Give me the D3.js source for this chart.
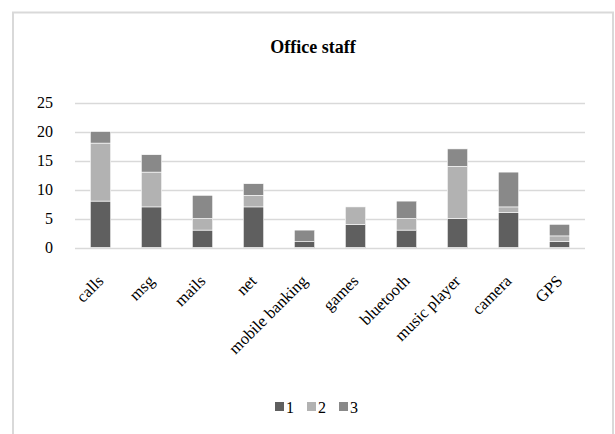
<!DOCTYPE html>
<html>
<head>
<meta charset="utf-8">
<script src="https://cdn.jsdelivr.net/npm/d3@7"></script>
<style>
  body { margin: 0; background: #fff; }
  text { font-family: "Liberation Serif", "Times New Roman", serif; }
</style>
</head>
<body>
<div id="chart"></div>
<script>
var categories = ["calls", "msg", "mails", "net", "mobile banking", "games", "bluetooth", "music player", "camera", "GPS"];
var series1 = [8, 7, 3, 7, 1, 4, 3, 5, 6, 1];
var series2 = [10, 6, 2, 2, 0, 3, 2, 9, 1, 1];
var series3 = [2, 3, 4, 2, 2, 0, 3, 3, 6, 2];
var seriesNames = ["1", "2", "3"];
var yTicks = [0, 5, 10, 15, 20, 25];
var colors = ["#5f5f5f", "#b2b2b2", "#898989"];

var W = 615, H = 434;

var svg = d3.select("#chart").append("svg")
  .attr("width", W)
  .attr("height", H);

// outer chart frame
svg.append("rect")
  .attr("x", 13).attr("y", 12.5)
  .attr("width", 600).attr("height", 440)
  .attr("fill", "#fff")
  .attr("stroke", "#d9d9d9")
  .attr("stroke-width", 2);

svg.append("text")
  .attr("x", 313).attr("y", 53)
  .attr("text-anchor", "middle")
  .style("font-size", "18px")
  .style("font-weight", "bold")
  .text("Office staff");

var x = d3.scaleBand()
  .domain(categories)
  .range([75, 585])
  .paddingInner(0.6)
  .paddingOuter(0.3);

var y = d3.scaleLinear()
  .domain([0, 25])
  .range([247.5, 102.5]);

// gridlines
svg.append("g")
  .selectAll("line")
  .data(yTicks)
  .enter().append("line")
  .attr("x1", 75).attr("x2", 585)
  .attr("y1", d => Math.round(y(d)) + 0.5)
  .attr("y2", d => Math.round(y(d)) + 0.5)
  .attr("stroke", "#d9d9d9")
  .attr("stroke-width", 1.3);

// y labels
svg.append("g")
  .selectAll("text")
  .data(yTicks)
  .enter().append("text")
  .attr("x", 53)
  .attr("y", d => y(d) + 5.5)
  .attr("text-anchor", "end")
  .style("font-size", "16px")
  .text(d => d);

var rows = categories.map((c, i) => ({ cat: c, s0: series1[i], s1: series2[i], s2: series3[i] }));
var stack = d3.stack().keys(["s0", "s1", "s2"]);
var layers = stack(rows);

svg.append("g")
  .selectAll("g")
  .data(layers)
  .enter().append("g")
  .attr("fill", (d, i) => colors[i])
  .selectAll("rect")
  .data(d => d.filter(p => p[1] > p[0]))
  .enter().append("rect")
  .attr("x", d => x(d.data.cat))
  .attr("y", d => y(d[1]))
  .attr("width", x.bandwidth())
  .attr("height", d => y(d[0]) - y(d[1]))
  .attr("stroke", "#fff")
  .attr("stroke-width", 0.6);

// category labels, rotated
svg.append("g")
  .selectAll("text")
  .data(categories)
  .enter().append("text")
  .attr("text-anchor", "end")
  .attr("transform", d => "translate(" + (x(d) + x.bandwidth() / 2 + 4) + ",282) rotate(-45)")
  .style("font-size", "16.5px")
  .text(d => d);

// legend
var legend = svg.append("g")
  .selectAll("g")
  .data(seriesNames)
  .enter().append("g")
  .attr("transform", (d, i) => "translate(" + (275 + i * 32) + ",402)");

legend.append("rect")
  .attr("width", 9).attr("height", 9)
  .attr("fill", (d, i) => colors[i]);

legend.append("text")
  .attr("x", 11).attr("y", 11)
  .style("font-size", "16px")
  .text(d => d);
</script>
</body>
</html>
